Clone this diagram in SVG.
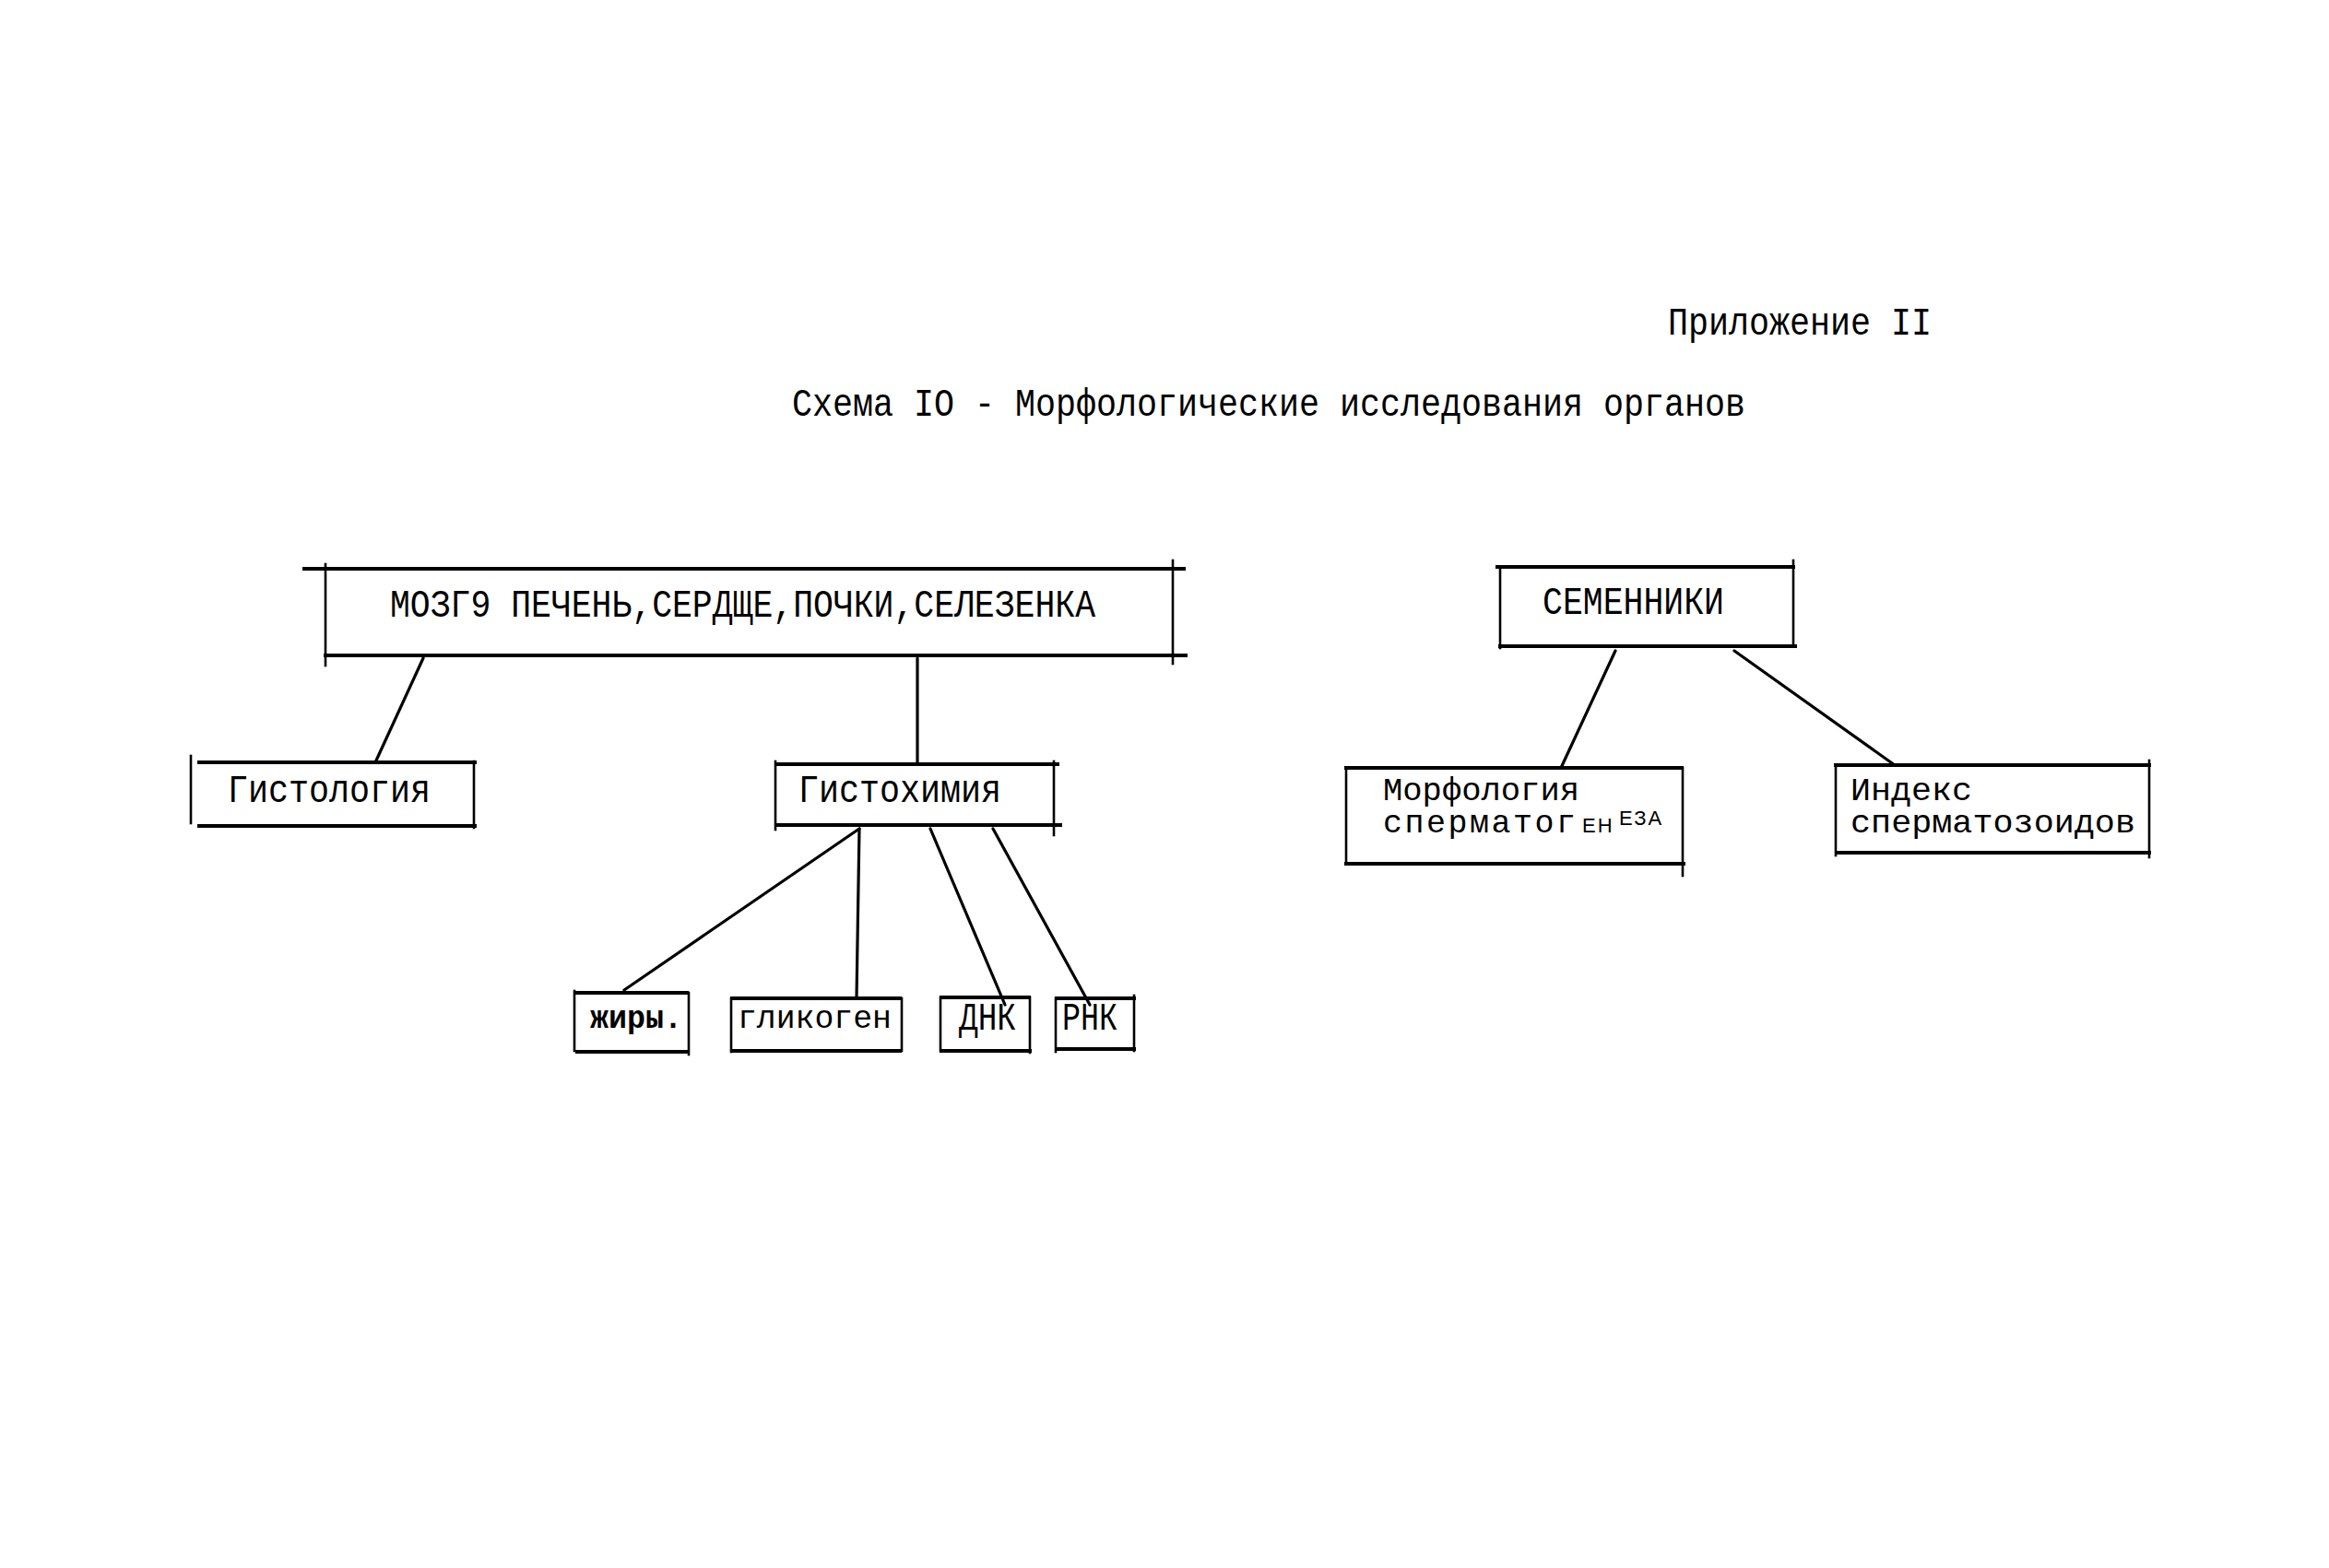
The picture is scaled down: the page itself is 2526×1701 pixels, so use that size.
<svg xmlns="http://www.w3.org/2000/svg" width="2526" height="1701" viewBox="0 0 2526 1701">
<style>
  .h { stroke:#000; stroke-width:4; stroke-linecap:square; fill:none; }
  .v { stroke:#000; stroke-width:2.6; stroke-linecap:square; fill:none; }
  .c { stroke:#000; stroke-width:3.2; stroke-linecap:round; fill:none; }
  .t { font-family:"Liberation Mono","DejaVu Sans Mono",monospace; font-size:42px; fill:#000; }
  .s { font-family:"Liberation Mono","DejaVu Sans Mono",monospace; font-size:35px; fill:#000; }
  .hw { font-family:"Liberation Sans","DejaVu Sans",sans-serif; font-size:22px; fill:#000; letter-spacing:2px; }
</style>
<rect width="2526" height="1701" fill="#fff"/>

<g id="titles">
  <text class="t" x="1809" y="363" textLength="286" lengthAdjust="spacingAndGlyphs">Приложение II</text>
  <text class="t" x="859" y="451" textLength="1034" lengthAdjust="spacingAndGlyphs">Схема IO - Морфологические исследования органов</text>
</g>

<g id="connectors">
  <line class="c" x1="459" y1="714" x2="408" y2="825"/>
  <line class="c" x1="995" y1="714" x2="995" y2="827"/>
  <line class="c" x1="932" y1="899" x2="677" y2="1074"/>
  <line class="c" x1="932" y1="899" x2="929" y2="1083"/>
  <line class="c" x1="1009" y1="899" x2="1090" y2="1090"/>
  <line class="c" x1="1077" y1="899" x2="1182" y2="1090"/>
  <line class="c" x1="1752" y1="706" x2="1693" y2="833"/>
  <line class="c" x1="1881" y1="706" x2="2055" y2="830"/>
</g>

<g id="node-organs">
  <line class="h" x1="330" y1="617" x2="1284" y2="617"/>
  <line class="v" x1="353" y1="612" x2="353" y2="722"/>
  <line class="h" x1="353" y1="711" x2="1286" y2="711"/>
  <line class="v" x1="1272" y1="608" x2="1272" y2="720"/>
  <text class="t" x="423" y="669" textLength="765" lengthAdjust="spacingAndGlyphs">МОЗГ9 ПЕЧЕНЬ,СЕРДЩЕ,ПОЧКИ,СЕЛЕЗЕНКА</text>
</g>

<g id="node-histology">
  <line class="v" x1="207" y1="820" x2="207" y2="893"/>
  <line class="h" x1="216" y1="827" x2="515" y2="827"/>
  <line class="h" x1="216" y1="896" x2="515" y2="896"/>
  <line class="v" x1="514" y1="826" x2="514" y2="898"/>
  <text class="t" x="247" y="870" textLength="220" lengthAdjust="spacingAndGlyphs">Гистология</text>
</g>

<g id="node-histochemistry">
  <line class="v" x1="841" y1="826" x2="841" y2="900"/>
  <line class="h" x1="843" y1="829" x2="1147" y2="829"/>
  <line class="h" x1="843" y1="895" x2="1150" y2="895"/>
  <line class="v" x1="1143" y1="826" x2="1143" y2="906"/>
  <text class="t" x="866" y="870" textLength="220" lengthAdjust="spacingAndGlyphs">Гистохимия</text>
</g>

<g id="node-fats">
  <line class="v" x1="623" y1="1075" x2="623" y2="1140"/>
  <line class="h" x1="624" y1="1077" x2="745" y2="1077"/>
  <line class="h" x1="626" y1="1141" x2="745" y2="1141"/>
  <line class="v" x1="747" y1="1077" x2="747" y2="1144"/>
  <text class="s" x="640" y="1115" textLength="100" lengthAdjust="spacingAndGlyphs" font-weight="bold">жиры.</text>
</g>

<g id="node-glycogen">
  <line class="v" x1="793" y1="1083" x2="793" y2="1141"/>
  <line class="h" x1="794" y1="1083" x2="976" y2="1083"/>
  <line class="h" x1="795" y1="1140" x2="976" y2="1140"/>
  <line class="v" x1="978" y1="1083" x2="978" y2="1140"/>
  <text class="s" x="800" y="1115" textLength="167" lengthAdjust="spacingAndGlyphs">гликоген</text>
</g>

<g id="node-dna">
  <line class="v" x1="1020" y1="1082" x2="1020" y2="1140"/>
  <line class="h" x1="1021" y1="1082" x2="1116" y2="1082"/>
  <line class="h" x1="1021" y1="1140" x2="1117" y2="1140"/>
  <line class="v" x1="1117" y1="1082" x2="1117" y2="1142"/>
  <text class="t" x="1040" y="1117" textLength="62" lengthAdjust="spacingAndGlyphs">ДНК</text>
</g>

<g id="node-rna">
  <line class="v" x1="1145" y1="1083" x2="1145" y2="1141"/>
  <line class="h" x1="1146" y1="1083" x2="1230" y2="1083"/>
  <line class="h" x1="1146" y1="1138" x2="1230" y2="1138"/>
  <line class="v" x1="1230" y1="1080" x2="1230" y2="1140"/>
  <text class="t" x="1152" y="1117" textLength="60" lengthAdjust="spacingAndGlyphs">РНК</text>
</g>

<g id="node-testes">
  <line class="h" x1="1624" y1="615" x2="1945" y2="615"/>
  <line class="v" x1="1627" y1="615" x2="1627" y2="703"/>
  <line class="h" x1="1627" y1="701" x2="1947" y2="701"/>
  <line class="v" x1="1945" y1="608" x2="1945" y2="701"/>
  <text class="t" x="1673" y="666" textLength="197" lengthAdjust="spacingAndGlyphs">СЕМЕННИКИ</text>
</g>

<g id="node-spermatogenesis">
  <line class="h" x1="1460" y1="833" x2="1824" y2="833"/>
  <line class="v" x1="1460" y1="833" x2="1460" y2="937"/>
  <line class="h" x1="1460" y1="937" x2="1826" y2="937"/>
  <line class="v" x1="1825" y1="833" x2="1825" y2="950"/>
  <text class="s" x="1500" y="868" textLength="213" lengthAdjust="spacingAndGlyphs">Морфология</text>
  <text class="s" x="1500" y="903"><tspan letter-spacing="2.5">сперматог</tspan><tspan class="hw" x="1716" y="903">ЕН</tspan><tspan class="hw" x="1756" y="895">ЕЗА</tspan></text>
</g>

<g id="node-sperm-index">
  <line class="h" x1="1991" y1="830" x2="2331" y2="830"/>
  <line class="v" x1="1991" y1="830" x2="1991" y2="928"/>
  <line class="h" x1="1993" y1="925" x2="2331" y2="925"/>
  <line class="v" x1="2331" y1="825" x2="2331" y2="930"/>
  <text class="s" x="2007" y="868" textLength="132" lengthAdjust="spacingAndGlyphs">Индекс</text>
  <text class="s" x="2007" y="903" textLength="309" lengthAdjust="spacingAndGlyphs">сперматозоидов</text>
</g>
</svg>
